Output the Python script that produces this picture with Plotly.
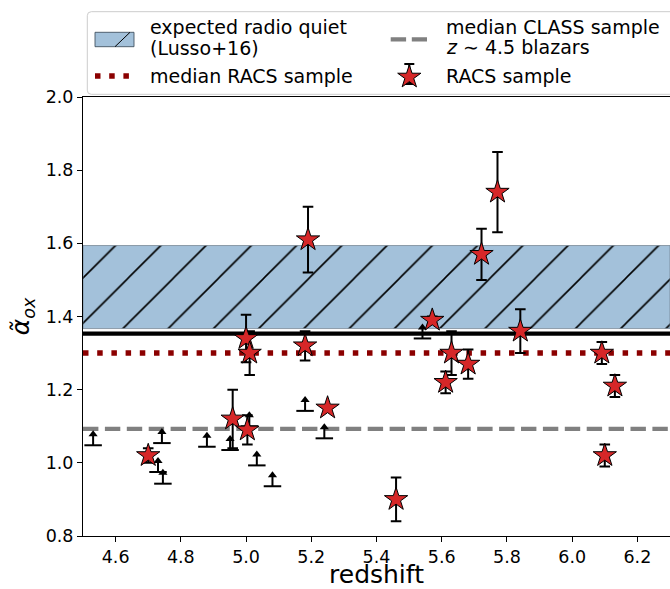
import math
import plotly.graph_objects as go

# ---------------- data ----------------
racs_z = [4.700, 4.959, 5.004, 5.000, 5.011, 5.181, 5.190, 5.250, 5.460, 5.571,
          5.612, 5.630, 5.681, 5.722, 5.771, 5.841, 6.091, 6.100, 6.131]
racs_aox = [1.02, 1.12, 1.09, 1.34, 1.30, 1.32, 1.61, 1.15, 0.90, 1.39,
            1.22, 1.30, 1.27, 1.57, 1.74, 1.36, 1.30, 1.02, 1.21]
racs_err = [0.02, 0.08, 0.04, 0.065, 0.06, 0.04, 0.09, 0.0, 0.06, 0.01,
            0.03, 0.06, 0.04, 0.07, 0.11, 0.06, 0.03, 0.03, 0.03]

lim_z = [4.531, 4.730, 4.745, 4.742, 4.880, 4.951, 5.010, 5.033, 5.081, 5.181, 5.240, 5.541]
lim_aox = [1.048, 0.975, 0.943, 1.054, 1.044, 1.035, 1.100, 0.993, 0.936, 1.142, 1.067, 1.340]
arrow_len = 0.03

radio_quiet_band = [1.367, 1.594]   # expected radio quiet (Lusso+16)
reference_line = 1.353
median_racs = 1.30
median_class = 1.093

x_range = [4.5, 6.3]
y_range = [0.8, 2.0]
x_ticks = [4.6, 4.8, 5.0, 5.2, 5.4, 5.6, 5.8, 6.0, 6.2]
y_ticks = [0.8, 1.0, 1.2, 1.4, 1.6, 1.8, 2.0]

# ---------------- styling ----------------
FONT = "DejaVu Sans"
W, H = 670, 589
ML, MR, MT, MB = 83, 0, 97, 53
PW, PH = W - ML - MR, H - MT - MB
BAND_COLOR = "#a3c1da"
RED = "#d62728"


def px(x):
    return (x - ML) / PW


def py(y):
    return (H - MB - y) / PH


fig = go.Figure()

# radio-quiet band
fig.add_trace(go.Scatter(
    x=[x_range[0], x_range[1], x_range[1], x_range[0], x_range[0]],
    y=[radio_quiet_band[0], radio_quiet_band[0], radio_quiet_band[1], radio_quiet_band[1], radio_quiet_band[0]],
    mode="lines", fill="toself", fillcolor=BAND_COLOR,
    fillpattern=dict(shape="/", size=32, solidity=0.05, fgcolor="black", fgopacity=1, bgcolor=BAND_COLOR),
    line=dict(color="rgba(110,125,140,0.7)", width=1),
    showlegend=False, hoverinfo="skip"))

# horizontal lines
fig.add_trace(go.Scatter(x=x_range, y=[reference_line] * 2, mode="lines",
                         line=dict(color="black", width=4.2), showlegend=False))
fig.add_trace(go.Scatter(x=x_range, y=[median_racs] * 2, mode="lines",
                         line=dict(color="#8b0000", width=5.5, dash="5.5px,8.7px"),
                         showlegend=False))
fig.add_trace(go.Scatter(x=x_range, y=[median_class] * 2, mode="lines",
                         line=dict(color="gray", width=4.2, dash="15.4px,6.5px"),
                         showlegend=False))

# lower limits (arrows)
seg_x, seg_y = [], []
for z, a in zip(lim_z, lim_aox):
    seg_x += [z, z, None]
    seg_y += [a, a + arrow_len, None]
fig.add_trace(go.Scatter(x=seg_x, y=seg_y, mode="lines",
                         line=dict(color="black", width=2), showlegend=False, hoverinfo="skip"))
fig.add_trace(go.Scatter(x=lim_z, y=lim_aox, mode="markers",
                         marker=dict(symbol="line-ew", size=12.5, line=dict(color="black", width=2)),
                         showlegend=False))
fig.add_trace(go.Scatter(x=lim_z, y=[a + arrow_len for a in lim_aox], mode="markers",
                         marker=dict(symbol="triangle-up", size=8, color="black",
                                     line=dict(width=0)),
                         showlegend=False))

# RACS sample
fig.add_trace(go.Scatter(
    x=racs_z, y=racs_aox, mode="markers",
    marker=dict(symbol="star", size=17.5, color=RED, line=dict(color="black", width=1)),
    error_y=dict(type="data", array=racs_err, visible=True, color="black", thickness=2, width=5.3),
    showlegend=False, name="RACS sample"))

# ---------------- manual legend ----------------
shapes = []
L, T, R, B, r = 87.3, 11.7, 690, 94.3, 4
path = (f"M{px(L + r)},{py(T)} L{px(R)},{py(T)} L{px(R)},{py(B)} L{px(L + r)},{py(B)} "
        f"Q{px(L)},{py(B)} {px(L)},{py(B - r)} L{px(L)},{py(T + r)} Q{px(L)},{py(T)} {px(L + r)},{py(T)} Z")
shapes.append(dict(type="path", xref="paper", yref="paper", path=path,
                   fillcolor="white", line=dict(color="#cccccc", width=1)))
# hatched patch
shapes.append(dict(type="rect", xref="paper", yref="paper", x0=px(95), x1=px(134), y0=py(46.7), y1=py(32.3),
                   fillcolor=BAND_COLOR, line=dict(color="rgba(60,75,90,0.85)", width=1)))
shapes.append(dict(type="line", xref="paper", yref="paper", x0=px(115), y0=py(46.7), x1=px(130), y1=py(32.3),
                   line=dict(color="black", width=1)))
# dotted red
shapes.append(dict(type="line", xref="paper", yref="paper", x0=px(95), y0=py(76), x1=px(134), y1=py(76),
                   line=dict(color="#8b0000", width=5.5, dash="5.5px,8.7px")))
# dashed gray
shapes.append(dict(type="line", xref="paper", yref="paper", x0=px(390.7), y0=py(39.3), x1=px(427), y1=py(39.3),
                   line=dict(color="gray", width=4.2, dash="15.4px,5.7px")))
# star with error bar
sx, sy = 409.3, 75.5
shapes.append(dict(type="line", xref="paper", yref="paper", x0=px(sx), y0=py(64), x1=px(sx), y1=py(84),
                   line=dict(color="black", width=2)))
for yy in (64, 84):
    shapes.append(dict(type="line", xref="paper", yref="paper", x0=px(sx - 5), y0=py(yy), x1=px(sx + 5), y1=py(yy),
                       line=dict(color="black", width=2)))
Ro, Ri = 12.2, 12.2 * 0.382
pts = []
for k in range(10):
    ang = -math.pi / 2 + k * math.pi / 5
    rad = Ro if k % 2 == 0 else Ri
    pts.append((sx + rad * math.cos(ang), sy + 1.5 + rad * math.sin(ang)))
star_path = "M" + " L".join(f"{px(a)},{py(b)}" for a, b in pts) + " Z"
shapes.append(dict(type="path", xref="paper", yref="paper", path=star_path,
                   fillcolor=RED, line=dict(color="black", width=1)))

ann = []
def text(x, y, s):
    ann.append(dict(x=px(x), y=py(y), xref="paper", yref="paper", text=s, showarrow=False,
                    xanchor="left", yanchor="middle", font=dict(family=FONT, size=19, color="black")))

text(148, 26.7, "expected radio quiet")
text(148, 48.3, "(Lusso+16)")
text(148, 76, "median RACS sample")
text(444, 26.7, "median CLASS sample")
text(444, 46.7, "<i>z</i> ∼ 4.5 blazars")
text(444, 76, "RACS sample")

fig.update_layout(
    width=W, height=H,
    margin=dict(l=ML, r=MR, t=MT, b=MB, autoexpand=False),
    paper_bgcolor="white", plot_bgcolor="white",
    font=dict(family=FONT, color="black"),
    shapes=shapes, annotations=ann,
    xaxis=dict(range=x_range, tickvals=x_ticks, ticktext=[f"{v:.1f}" for v in x_ticks],
               showgrid=False, zeroline=False, showline=True, linecolor="black", linewidth=1,
               mirror=True, ticks="outside", ticklen=5, tickwidth=1, tickcolor="black",
               tickfont=dict(family=FONT, size=17.5, color="black"),
               title=dict(text="redshift", font=dict(family=FONT, size=25, color="black"), standoff=12)),
    yaxis=dict(range=y_range, tickvals=y_ticks, ticktext=[f"{v:.1f}" for v in y_ticks],
               showgrid=False, zeroline=False, showline=True, linecolor="black", linewidth=1,
               ticks="outside", ticklen=5, tickwidth=1, tickcolor="black",
               tickfont=dict(family=FONT, size=17.5, color="black"),
               title=dict(text="<i>α̃</i><sub><i>ox</i></sub>", font=dict(family=FONT, size=25, color="black"),
                          standoff=8)),
)

fig.write_html("out.html")
